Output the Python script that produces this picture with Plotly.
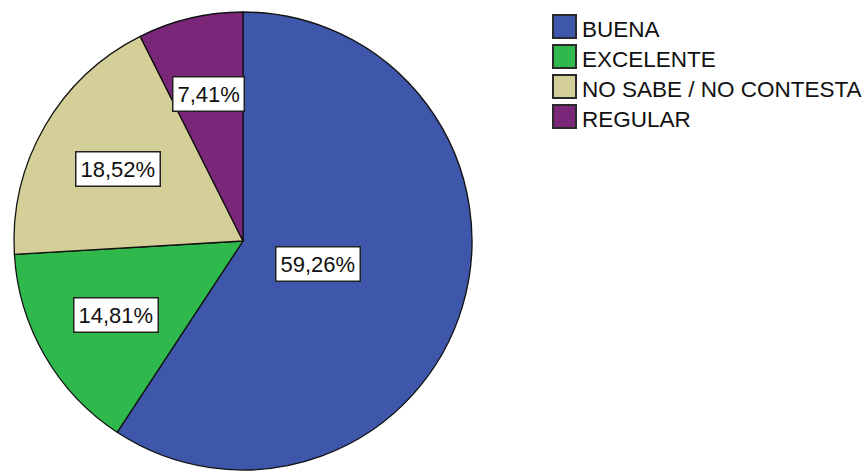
import numpy as np
import plotly.graph_objects as go

categories = ["BUENA", "EXCELENTE", "NO SABE / NO CONTESTA", "REGULAR"]
counts = [16, 4, 5, 2]
pct_labels = ["59,26%", "14,81%", "18,52%", "7,41%"]
colors = ["#3e57aa", "#2fb84c", "#d4cf98", "#7a2679"]

W, H = 867, 471
# pie placement (pixels)
px_left, px_right, px_top, px_bottom = 13, 473, 12, 470
FONT = "Arial, Liberation Sans, sans-serif"

fig = go.Figure()
fig.add_trace(go.Pie(
    labels=categories, values=counts, sort=False, direction="clockwise",
    rotation=0, textinfo="none", hoverinfo="label+percent",
    marker=dict(colors=colors, line=dict(color="#111111", width=1.3)),
    domain=dict(x=[px_left / W, px_right / W], y=[1 - px_bottom / H, 1 - px_top / H]),
    showlegend=False,
))

# label positions at sector centroids computed from the data
cx = (px_left + px_right) / 2
cy = (px_top + px_bottom) / 2
R = min(px_right - px_left, px_bottom - px_top) / 2
vals = np.array(counts, dtype=float)
fr = vals / vals.sum()
ends = np.cumsum(fr) * 2 * np.pi
starts = ends - fr * 2 * np.pi
annotations = []
for lab, a0, a1 in zip(pct_labels, starts, ends):
    half = (a1 - a0) / 2
    mid = (a0 + a1) / 2
    d = 2 * R * np.sin(half) / (3 * half)
    x = cx + d * np.sin(mid)
    y = cy - d * np.cos(mid)
    annotations.append(dict(
        x=x / W, y=1 - y / H, xref="paper", yref="paper", text=lab, showarrow=False,
        font=dict(family=FONT, size=22, color="#111111"),
        bgcolor="white", bordercolor="#222222", borderwidth=1.5, borderpad=4,
        xanchor="center", yanchor="middle",
    ))

# manual legend
shapes = []
lg_x0, lg_top, sq, step = 553, 15, 23, 30
for i, (cat, col) in enumerate(zip(categories, colors)):
    t = lg_top + i * step
    shapes.append(dict(type="rect", xref="paper", yref="paper",
                       x0=lg_x0 / W, x1=(lg_x0 + sq) / W,
                       y0=1 - (t + sq) / H, y1=1 - t / H,
                       fillcolor=col, line=dict(color="#2a2a2a", width=2)))
    annotations.append(dict(
        x=(lg_x0 + sq + 4) / W, y=1 - (t + sq / 2 + 3) / H, xref="paper", yref="paper",
        text=cat, showarrow=False, xanchor="left", yanchor="middle",
        font=dict(family=FONT, size=22.5, color="#111111"),
    ))

fig.update_layout(
    width=W, height=H, margin=dict(l=0, r=0, t=0, b=0),
    paper_bgcolor="white", plot_bgcolor="white",
    annotations=annotations, shapes=shapes, showlegend=False,
)
fig.write_html("out.html", config={"displayModeBar": False},
               post_script="document.body.style.margin='0';document.body.style.overflow='hidden';")
